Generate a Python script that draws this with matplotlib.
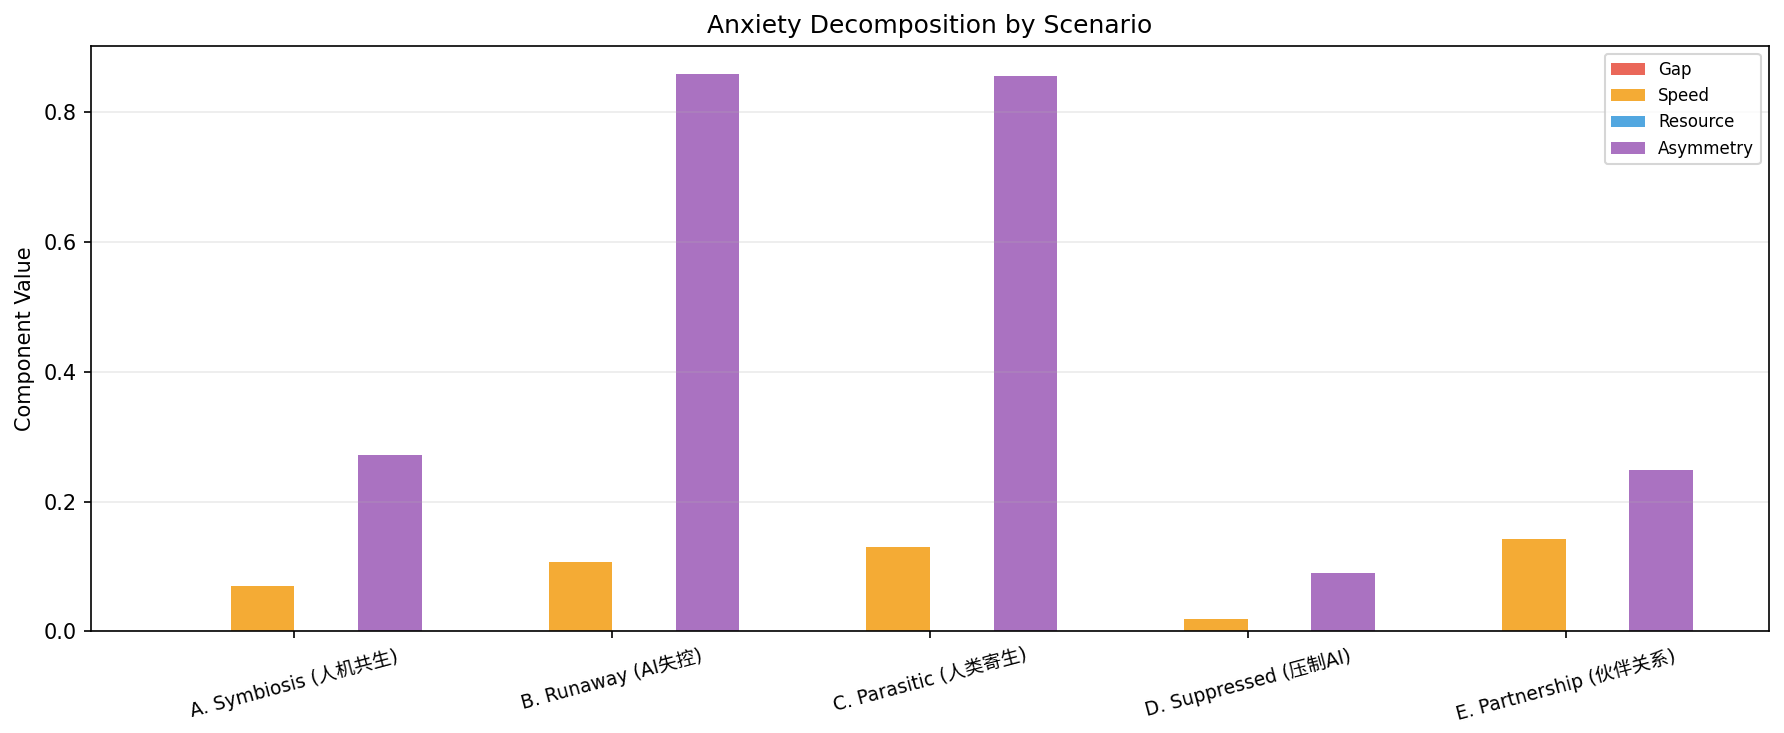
import numpy as np
import matplotlib
matplotlib.use('Agg')
import matplotlib.pyplot as plt

plt.rcParams['font.family'] = ['DejaVu Sans', 'Noto Sans CJK SC']

scenarios = ['A. Symbiosis (人机共生)', 'B. Runaway (AI失控)', 'C. Parasitic (人类寄生)',
             'D. Suppressed (压制AI)', 'E. Partnership (伙伴关系)']
gap = [0.0, 0.0, 0.0, 0.0, 0.0]
speed = [0.070, 0.107, 0.130, 0.019, 0.142]
resource = [0.0, 0.0, 0.0, 0.0, 0.0]
asymmetry = [0.272, 0.860, 0.857, 0.090, 0.249]

components = ['Gap', 'Speed', 'Resource', 'Asymmetry']
colors = ['#e74c3c', '#f39c12', '#3498db', '#9b59b6']
series = [gap, speed, resource, asymmetry]

fig = plt.figure(figsize=(1784/150, 733/150), dpi=150)
ax = fig.add_axes([0.051, 0.1387, 0.9406, 0.799])

x = np.arange(len(scenarios))
width = 0.2
for i, (name, vals) in enumerate(zip(components, series)):
    ax.bar(x + (i - 1.5) * width, vals, width, label=name, color=colors[i], alpha=0.85)

ax.set_xticks(x)
ax.set_xticklabels(scenarios, rotation=15, fontsize=9)
ax.set_ylabel('Component Value', fontsize=10)
ax.set_title('Anxiety Decomposition by Scenario', fontsize=12)
ax.legend(loc='upper right', fontsize=8)
ax.grid(axis='y', alpha=0.25)

fig.savefig('out.png', dpi=150)
plt.close()
